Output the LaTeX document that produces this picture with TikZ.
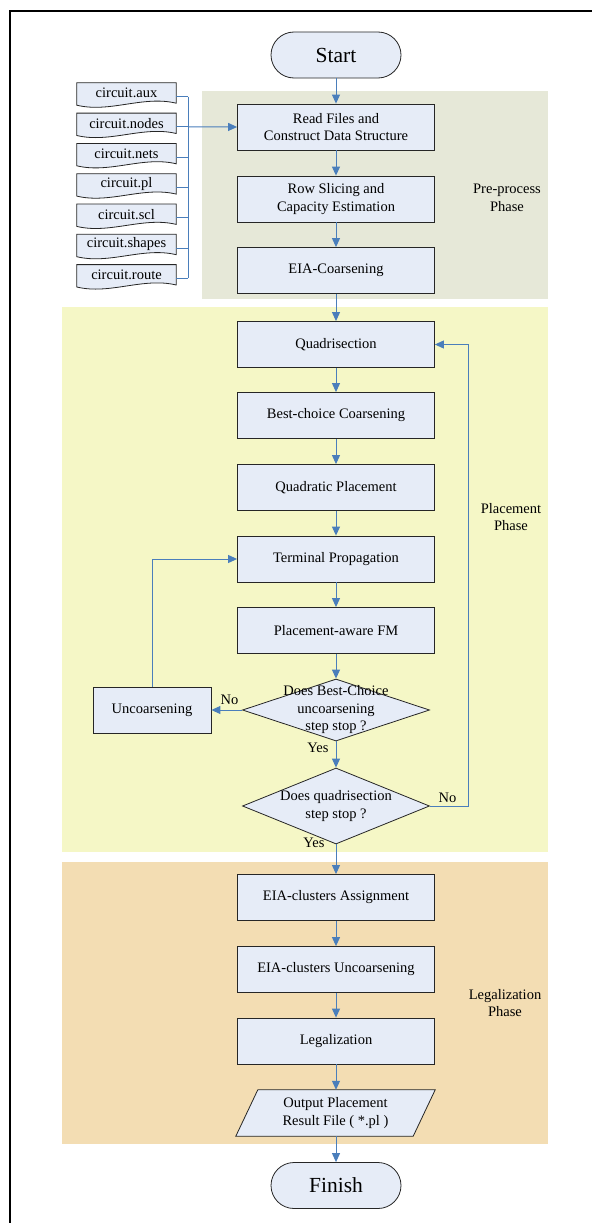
\documentclass[tikz,border=0pt]{standalone}
\usepackage{fontspec}
\setmainfont{Liberation Serif}
\usetikzlibrary{shapes.geometric,arrows.meta,calc}
\definecolor{boxfill}{HTML}{E6ECF7}
\definecolor{flow}{HTML}{4A7EBB}
\definecolor{prebg}{HTML}{E6E8D8}
\definecolor{placebg}{HTML}{F5F7C6}
\definecolor{legalbg}{HTML}{F3DDB3}
\begin{document}
\begin{tikzpicture}[x=1pt,y=-1pt,
  every node/.style={font=\fontsize{14.5}{17.5}\selectfont},
  stepbox/.style={draw=black!85, fill=boxfill, line width=0.8pt, minimum width=197pt,
    minimum height=46pt, inner sep=0pt, align=center},
  termbox/.style={draw=black!85, fill=boxfill, line width=0.8pt, minimum width=130pt,
    minimum height=46pt, rounded corners=23pt, inner sep=0pt, font=\fontsize{21.5}{24}\selectfont},
  decision/.style={diamond, draw=black!85, fill=boxfill, line width=0.8pt, inner sep=0pt,
    minimum width=187pt},
  filebox/.style={minimum width=99pt, minimum height=20pt, inner sep=0pt},
  flowline/.style={draw=flow, line width=1pt},
  flowarrow/.style={flowline, -{Triangle[length=9pt,width=8pt]}},
  phase/.style={align=center},
  answer/.style={inner sep=1pt},
]
\useasboundingbox (0,0) rectangle (592,1223);

% page frame
\draw[line width=1.3pt] (10,1223) -- (10,11) -- (592,11);

% phase backgrounds
\fill[prebg] (202,91) rectangle (548,299);
\fill[placebg] (62,307) rectangle (548,852);
\fill[legalbg] (62,862) rectangle (548,1144);

% phase titles
\node[phase] (prelbl) at (507,198) {Pre-process\\Phase};
\node[phase] (placelbl) at (511,517) {Placement\\Phase};
\node[phase] (legallbl) at (505,1003) {Legalization\\Phase};

% main flow
\node[termbox] (start) at (336,55) {Start};
\node[stepbox] (read) at (336,127) {Read Files and\\Construct Data Structure};
\node[stepbox] (row) at (336,199) {Row Slicing and\\Capacity Estimation};
\node[stepbox] (eia) at (336,270.5) {EIA-Coarsening};
\node[stepbox] (quad) at (336,344.5) {Quadrisection};
\node[stepbox] (best) at (336,415.5) {Best-choice Coarsening};
\node[stepbox] (qp) at (336,487.5) {Quadratic Placement};
\node[stepbox] (term) at (336,559) {Terminal Propagation};
\node[stepbox] (fm) at (336,630.5) {Placement-aware FM};
\node[decision, minimum height=62pt] (dA) at (336,710) {};
\node[align=center] (dAtext) at (336,710) {Does Best-Choice\\uncoarsening\\step stop ?};
\node[stepbox, minimum width=118pt] (unc) at (152,710) {Uncoarsening};
\node[decision, minimum height=76pt] (dB) at (336,806) {};
\node[align=center] (dBtext) at (336,806) {Does quadrisection\\step stop ?};
\node[stepbox] (assign) at (336,897.5) {EIA-clusters Assignment};
\node[stepbox] (uncl) at (336,969.5) {EIA-clusters Uncoarsening};
\node[stepbox] (legal) at (336,1041) {Legalization};
\node[minimum width=199pt, minimum height=46pt, inner sep=0pt] (out) at (335.5,1113) {};
\draw[draw=black!85, fill=boxfill, line width=0.8pt]
  ($(out.north west)+(22,0)$) -- (out.north east) -- ($(out.south east)+(-22,0)$)
  -- (out.south west) -- cycle;
\node[align=center] (outtext) at (out.center) {Output Placement\\Result File ( *.pl )};
\node[termbox] (finish) at (336,1185.5) {Finish};

% input files
\foreach \n/\t [count=\i from 0] in {f1/circuit.aux, f2/circuit.nodes, f3/circuit.nets,
    f4/circuit.pl, f5/circuit.scl, f6/circuit.shapes, f7/circuit.route} {
  \node[filebox] (\n) at (126.5,93+30.3*\i) {};
  \draw[draw=black!85, fill=boxfill, line width=0.8pt]
    (\n.north west) -- (\n.north east) -- (\n.south east)
    .. controls ($(\n.south east)+(-33,-8)$) and ($(\n.south west)+(33,10)$) ..
    ($(\n.south west)+(0,2)$) -- cycle;
  \node at (\n.center) {\t};
  \draw[flowline] ($(\n.east)+(0,3.5)$) -- ++(12,0);
}
\draw[flowline] ($(f1.east)+(12,3.5)$) -- ($(f7.east)+(12,3.5)$);
\draw[flowarrow] ($(f2.east)+(12,3.5)$) -- (read.west);

% connectors
\draw[flowarrow] (start) -- (read);
\draw[flowarrow] (read) -- (row);
\draw[flowarrow] (row) -- (eia);
\draw[flowarrow] (eia) -- (quad);
\draw[flowarrow] (quad) -- (best);
\draw[flowarrow] (best) -- (qp);
\draw[flowarrow] (qp) -- (term);
\draw[flowarrow] (term) -- (fm);
\draw[flowarrow] (fm) -- (dA.north);
\draw[flowarrow] (dA.west) -- (unc.east);
\draw[flowarrow] (unc.north) |- (term.west);
\draw[flowarrow] (dA.south) -- (dB.north);
\draw[flowarrow] (dB.east) -- ++(38.5,0) |- (quad.east);
\draw[flowarrow] (dB.south) -- (assign.north);
\draw[flowarrow] (assign) -- (uncl);
\draw[flowarrow] (uncl) -- (legal);
\draw[flowarrow] (legal) -- (out.north -| legal);
\draw[flowarrow] (out.south -| finish) -- (finish);

% decision answers
\node[answer] (noA) at (229.5,700) {No};
\node[answer] (yesA) at (318,748) {Yes};
\node[answer] (noB) at (447.5,798) {No};
\node[answer] (yesB) at (314,843) {Yes};
\end{tikzpicture}
\end{document}
